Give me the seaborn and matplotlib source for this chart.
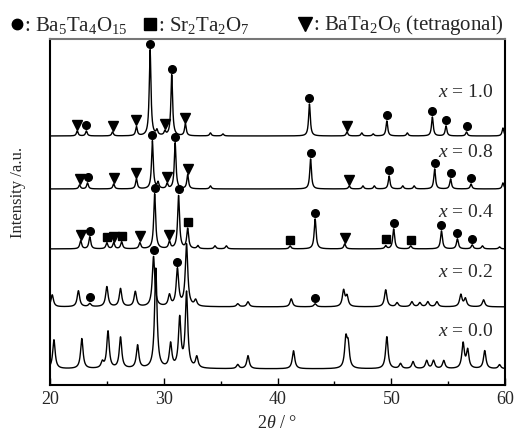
import numpy as np
import pandas as pd
import matplotlib
matplotlib.use('Agg')
import matplotlib.pyplot as plt
import seaborn as sns
from matplotlib.lines import Line2D

sns.set_theme(style="ticks")
plt.rcParams['font.family'] = ['Liberation Serif', 'DejaVu Serif']
plt.rcParams['mathtext.fontset'] = 'custom'
plt.rcParams['mathtext.rm'] = 'Liberation Serif'
plt.rcParams['mathtext.it'] = 'Liberation Serif:italic'
plt.rcParams['mathtext.bf'] = 'Liberation Serif:bold'

# sample labels and vertical offsets of each pattern (a.u.)
samples = ['1.0', '0.8', '0.4', '0.2', '0.0']
offsets = [249, 196, 136, 78, 16]
widths = [0.09, 0.09, 0.10, 0.13, 0.13]   # peak half widths, degrees

# peak positions (2theta) and heights
pos_10 = [22.4, 23.2, 25.5, 27.6, 28.8, 29.4, 30.1, 30.7, 31.9, 34.1, 35.2,
          42.8, 46.1, 47.4, 48.4, 49.6, 51.4, 53.6, 54.8, 56.6, 59.8]
h_10 = [5, 5, 4, 9, 86, 5, 4, 61, 12, 3, 2,
        32, 4, 3, 2, 15, 3, 19, 10, 4, 8]

pos_08 = [22.6, 23.3, 25.6, 27.6, 29.0, 29.5, 30.3, 31.0, 32.1, 34.1,
          42.9, 46.3, 47.5, 48.5, 49.8, 51.0, 52.0, 53.8, 55.2, 57.0, 59.8]
h_08 = [4, 6, 5, 10, 48, 6, 5, 46, 14, 3,
        30, 3, 3, 3, 13, 3, 3, 20, 10, 5, 6]

pos_04 = [22.7, 23.5, 25.0, 25.6, 26.3, 27.9, 29.2, 30.5, 31.3, 32.1, 33.0,
          34.5, 35.5, 41.1, 43.3, 45.9, 49.5, 50.2, 51.7, 54.4, 55.8, 57.1,
          58.0, 59.5]
h_04 = [8, 12, 6, 6, 7, 6, 55, 7, 53, 20, 3,
        3, 3, 3, 30, 5, 3, 20, 3, 18, 10, 4,
        3, 2]

pos_02 = [20.2, 22.5, 23.5, 25.0, 26.2, 27.5, 29.1, 30.5, 31.2, 32.0, 32.8,
          36.5, 37.4, 41.2, 43.3, 45.8, 46.1, 49.5, 50.5, 51.8, 52.5, 53.2,
          54.0, 56.1, 56.5, 58.1]
h_02 = [12, 16, 3, 20, 18, 15, 50, 11, 37, 62, 6,
        3, 5, 8, 3, 16, 10, 17, 4, 5, 4, 5,
        5, 12, 8, 7]

pos_00 = [20.35, 22.8, 24.6, 25.1, 26.2, 27.7, 29.3, 30.6, 31.4, 32.0, 32.9,
          36.5, 37.4, 41.4, 46.0, 46.2, 49.6, 50.8, 51.9, 53.1, 53.7, 54.6,
          56.3, 56.7, 58.2, 59.5]
h_00 = [29, 30, 6, 37, 31, 23, 100, 24, 49, 75, 11,
        4, 13, 18, 28, 22, 32, 5, 7, 8, 8, 8,
        25, 18, 18, 4]

peak_pos = [pos_10, pos_08, pos_04, pos_02, pos_00]
peak_h = [h_10, h_08, h_04, h_02, h_00]

# phase markers (2theta) per sample
circ = [[23.2, 28.8, 30.7, 42.8, 49.6, 53.6, 54.8, 56.6],
        [23.3, 29.0, 31.0, 42.9, 49.8, 53.8, 55.2, 57.0],
        [23.5, 29.2, 31.3, 43.3, 50.2, 54.4, 55.8, 57.1],
        [23.5, 29.1, 31.2, 43.3],
        []]
squares = [[], [],
           [25.0, 26.3, 32.1, 41.1, 49.5, 51.7],
           [], []]
tris = [[22.4, 25.5, 27.6, 30.1, 31.9, 46.1],
        [22.6, 25.6, 27.6, 30.3, 32.1, 46.3],
        [22.7, 25.6, 27.9, 30.5, 45.9],
        [], []]

tth = np.round(np.linspace(20, 60, 4001), 3)


def pattern(positions, heights, w):
    y = np.zeros_like(tth)
    for p, h in zip(positions, heights):
        y += h / (1 + ((tth - p) / w) ** 2)
    return y


fig, ax = plt.subplots(figsize=(5.15, 4.35), dpi=100)
fig.subplots_adjust(left=0.097, right=0.981, bottom=0.113, top=0.908)

label_y = [44, 37, 37, 35, 38]

for i, s in enumerate(samples):
    y = pattern(peak_pos[i], peak_h[i], widths[i]) + offsets[i]
    df = pd.DataFrame({'tth': tth, 'I': y})
    sns.lineplot(data=df, x='tth', y='I', color='black', lw=1.0,
                 estimator=None, ax=ax)
    for plist, mk, ms, dy in [(circ[i], 'o', 5.5, 6), (squares[i], 's', 5.5, 6),
                              (tris[i], 'v', 6.5, 6)]:
        if not plist:
            continue
        idx = [int(np.argmin(np.abs(tth - p))) for p in plist]
        ax.plot(tth[idx], y[idx] + dy, linestyle='none', marker=mk,
                ms=ms, color='black', mec='black')
    ax.text(58.95, offsets[i] + label_y[i], r'$x$ = ' + s, ha='right',
            va='center', fontsize=14)

ax.set_xlim(20, 60)
ax.set_ylim(0, 346)
ax.set_yticks([])
ax.set_xticks([20, 30, 40, 50, 60])
ax.set_xticks([25, 35, 45, 55], minor=True)
ax.tick_params(axis='x', which='major', direction='in', length=5, width=1,
               labelsize=13, color='black', pad=4)
ax.tick_params(axis='x', which='minor', direction='in', length=3, width=1,
               color='black')
for side in ['left', 'bottom', 'right']:
    ax.spines[side].set_color('black')
    ax.spines[side].set_linewidth(1.5)
ax.spines['top'].set_color('#777777')
ax.spines['top'].set_linewidth(1.5)
ax.set_xlabel(r'2$\theta$ / °', fontsize=13, labelpad=5)
ax.set_ylabel('Intensity /a.u.', fontsize=12)
ax.yaxis.set_label_coords(-0.052, 0.56)

# phase legend at the top
leg_y = 1 - 25 / 435
for xm, mk, ms in [(17, 'o', 7.5), (150, 's', 8), (305, 'v', 10)]:
    fig.add_artist(Line2D([xm / 515], [leg_y], marker=mk, ms=ms,
                          color='black', linestyle='none',
                          transform=fig.transFigure))
fig.text(24 / 515, leg_y, r': Ba$_5$Ta$_4$O$_{15}$', fontsize=15, va='center')
fig.text(158 / 515, leg_y, r': Sr$_2$Ta$_2$O$_7$', fontsize=15, va='center')
fig.text(313 / 515, leg_y, r': BaTa$_2$O$_6$ (tetragonal)', fontsize=15,
         va='center')

fig.savefig('out.png', dpi=100)
